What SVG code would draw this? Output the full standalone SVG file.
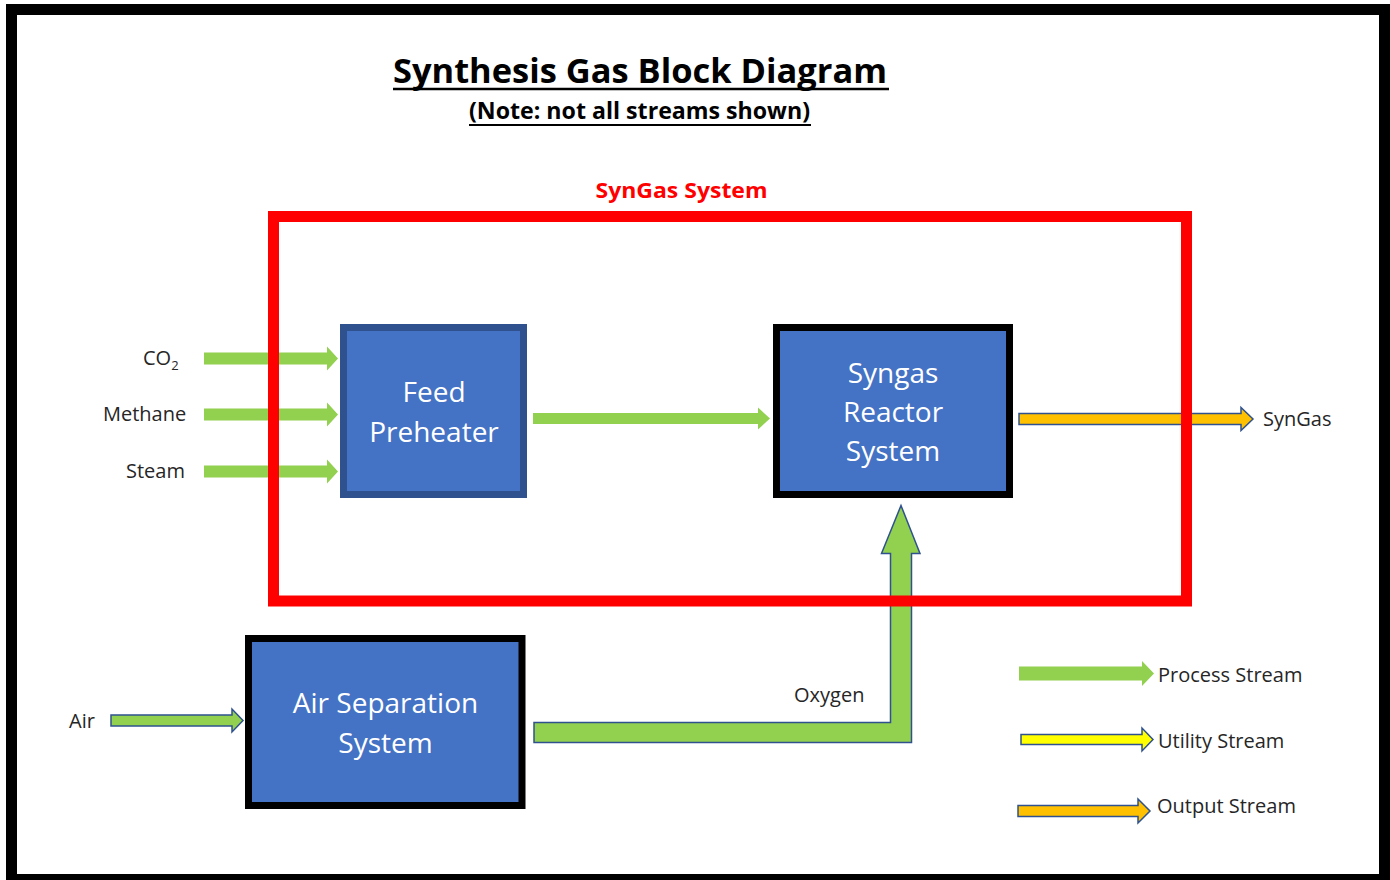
<svg xmlns="http://www.w3.org/2000/svg" width="1390" height="880" viewBox="0 0 1390 880">
<style>
.lbl{font-family:"Open Sans","Noto Sans",sans-serif;font-size:20px;fill:#262626}
.box{font-family:"Open Sans","Noto Sans",sans-serif;font-size:28px;fill:#ffffff;text-anchor:middle}
.proc{fill:#92D050}
.procb{fill:#92D050;stroke:#2F528F;stroke-width:1.5}
.outp{fill:#FFC000;stroke:#2F528F;stroke-width:1.5}
.util{fill:#FFFF00;stroke:#2F528F;stroke-width:1.5}
.title{font-family:"Open Sans","Noto Sans",sans-serif;font-weight:bold;fill:#000;text-anchor:middle}
</style>
<rect x="0" y="0" width="1390" height="880" fill="#ffffff"/>
<rect x="11.5" y="9.5" width="1373" height="870" fill="none" stroke="#000" stroke-width="11"/>

<g id="title">
<text class="title" x="640" y="83" font-size="34" textLength="494" lengthAdjust="spacingAndGlyphs">Synthesis Gas Block Diagram</text>
<line x1="393" y1="89" x2="889" y2="89" stroke="#000" stroke-width="2.5"/>
<text class="title" x="639.5" y="119" font-size="23" textLength="341" lengthAdjust="spacingAndGlyphs">(Note: not all streams shown)</text>
<line x1="469" y1="125" x2="811" y2="125" stroke="#000" stroke-width="2"/>
</g>

<g id="connectors">
<polygon class="proc" points="204,352.5 327,352.5 327,346.5 338,358.5 327,370.5 327,364.5 204,364.5"/>
<polygon class="proc" points="204,408.5 327,408.5 327,402.5 338,414.5 327,426.5 327,420.5 204,420.5"/>
<polygon class="proc" points="204,465.5 327,465.5 327,459.5 338,471.5 327,483.5 327,477.5 204,477.5"/>
<polygon class="proc" points="533,413 758,413 758,407.5 770,418.5 758,429.5 758,424 533,424"/>
<polygon class="procb" points="111,715 232,715 232,709 243,720.5 232,732 232,726 111,726"/>
<polygon class="outp" points="1019,413.5 1241,413.5 1241,407.5 1253,419 1241,430.5 1241,424.5 1019,424.5"/>
<path class="procb" d="M534,722.5 H890.5 V553.5 H881.5 L901,505.5 L920,553.5 H911.5 V742.5 H534 Z"/>
</g>

<g id="labels">
<text class="lbl" x="143" y="365">CO<tspan font-size="13" dy="5">2</tspan></text>
<text class="lbl" x="103" y="421">Methane</text>
<text class="lbl" x="126" y="478">Steam</text>
<text class="lbl" x="69" y="728">Air</text>
<text class="lbl" x="794" y="702">Oxygen</text>
<text class="lbl" x="1263" y="426">SynGas</text>
</g>

<g id="syngas-system">
<rect x="273.5" y="216.5" width="913" height="384.5" fill="none" stroke="#FF0000" stroke-width="11"/>
<text x="681.5" y="198" font-family="'Open Sans','Noto Sans',sans-serif" font-weight="bold" font-size="22" fill="#FF0000" text-anchor="middle" textLength="172" lengthAdjust="spacingAndGlyphs">SynGas System</text>
</g>

<g id="feed-preheater">
<rect x="343.5" y="327.5" width="180" height="167" fill="#4472C4" stroke="#2F528F" stroke-width="7"/>
<text class="box" x="434" y="402">Feed</text>
<text class="box" x="434" y="442">Preheater</text>
</g>

<g id="syngas-reactor">
<rect x="776.5" y="327.5" width="233" height="167" fill="#4472C4" stroke="#000" stroke-width="7"/>
<text class="box" x="893" y="383">Syngas</text>
<text class="box" x="893" y="422">Reactor</text>
<text class="box" x="893" y="461">System</text>
</g>

<g id="air-separation">
<rect x="248.5" y="638.5" width="273.5" height="167" fill="#4472C4" stroke="#000" stroke-width="7"/>
<text class="box" x="385.5" y="713">Air Separation</text>
<text class="box" x="385.5" y="753">System</text>
</g>

<g id="legend">
<polygon class="proc" points="1019,666.5 1142,666.5 1142,661 1154,673.5 1142,686 1142,680.5 1019,680.5"/>
<text class="lbl" x="1158" y="682">Process Stream</text>
<polygon class="util" points="1021,734.5 1142,734.5 1142,728 1153,739.5 1142,751 1142,744.5 1021,744.5"/>
<text class="lbl" x="1158" y="748">Utility Stream</text>
<polygon class="outp" points="1018,805.5 1138,805.5 1138,799 1150,811 1138,823 1138,816.5 1018,816.5"/>
<text class="lbl" x="1157" y="813">Output Stream</text>
</g>
</svg>
